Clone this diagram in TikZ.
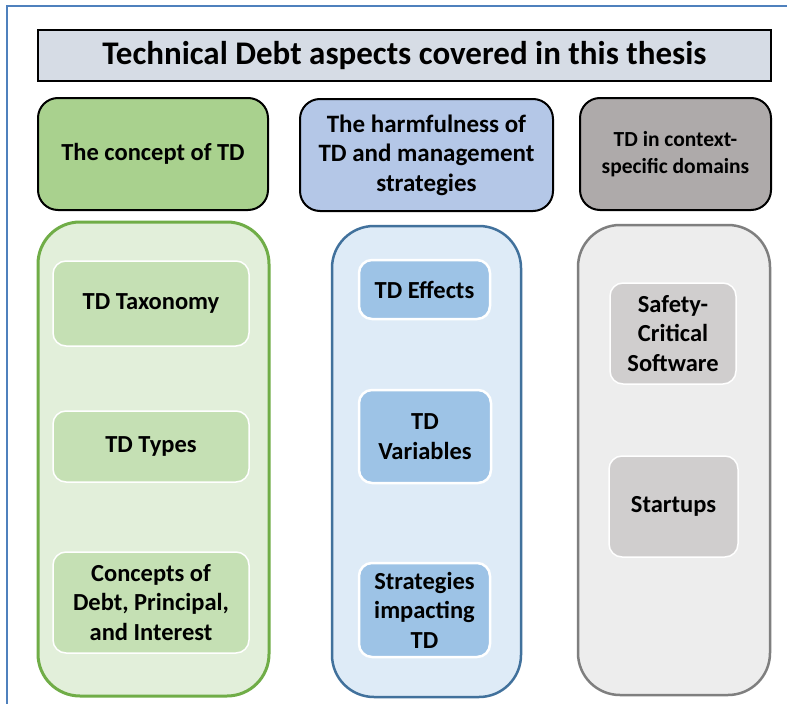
\documentclass[tikz,border=0pt]{standalone}
\usepackage{fontspec}
\setmainfont{Carlito}
\definecolor{frameblue}{HTML}{4F81BD}
\definecolor{titlefill}{HTML}{D6DCE5}
\definecolor{hgreen}{HTML}{A9D18E}
\definecolor{hblue}{HTML}{B4C7E7}
\definecolor{hgray}{HTML}{AEAAAA}
\definecolor{cgreenf}{HTML}{E2EFDA}
\definecolor{cgreend}{HTML}{70AD47}
\definecolor{cbluef}{HTML}{DEEBF7}
\definecolor{cblued}{HTML}{41719C}
\definecolor{cgrayf}{HTML}{EDEDED}
\definecolor{cgrayd}{HTML}{7F7F7F}
\definecolor{igreen}{HTML}{C5E0B4}
\definecolor{iblue}{HTML}{9DC3E6}
\definecolor{igray}{HTML}{D0CECE}
\tikzset{
  txt/.style={font=\bfseries\fontsize{24.5}{29.5}\selectfont, align=center, inner sep=0pt, outer sep=0pt},
  titlebox/.style={txt, draw=black, line width=2pt, fill=titlefill, font=\bfseries\fontsize{33}{38}\selectfont},
  headbox/.style={txt, draw=black, line width=2pt, rounded corners=20pt},
  contbox/.style={draw, line width=3pt, rounded corners=42pt, inner sep=0pt},
  innerbox/.style={txt, draw=white, line width=1.5pt, rounded corners=13pt},
}
\begin{document}
\begin{tikzpicture}[x=1pt,y=-1pt]
\useasboundingbox (0,0) rectangle (787,704);
\fill[white] (0,0) rectangle (787,704);
\draw[frameblue, line width=2pt] (7,704) -- (7,6) -- (787,6);
% title
\node[titlebox, minimum width=733pt, minimum height=51pt] (title) at (404.5,55.5) {Technical Debt aspects covered in this thesis};
% headers
\node[headbox, fill=hgreen, minimum width=230pt, minimum height=112pt] (h1) at (153,154) {The concept of TD};
\node[headbox, fill=hblue, minimum width=253pt, minimum height=112pt, font=\bfseries\fontsize{25}{29.5}\selectfont] (h2) at (426.5,155) {The harmfulness of\\TD and management\\strategies};
\node[headbox, fill=hgray, minimum width=191pt, minimum height=112pt, font=\bfseries\fontsize{21.5}{27}\selectfont] (h3) at (675.5,154) {TD in context-\\specific domains};
% containers
\node[contbox, draw=cgreend, fill=cgreenf, minimum width=231pt, minimum height=474pt] (c1) at (153.5,459) {};
\node[contbox, draw=cblued, line width=2.5pt, fill=cbluef, minimum width=189pt, minimum height=471pt] (c2) at (426.5,461.5) {};
\node[contbox, draw=cgrayd, line width=2.5pt, fill=cgrayf, minimum width=192pt, minimum height=470pt] (c3) at (674,460) {};
% green inner
\node[innerbox, fill=igreen, minimum width=196pt, minimum height=85pt] (g1) at (151,303.5) {TD Taxonomy};
\node[innerbox, fill=igreen, minimum width=196pt, minimum height=71pt] (g2) at (151,446.5) {TD Types};
\node[innerbox, fill=igreen, minimum width=196pt, minimum height=101pt] (g3) at (151,602.5) {Concepts of\\Debt, Principal,\\and Interest};
% blue inner
\node[innerbox, line width=2.5pt, fill=iblue, minimum width=131pt, minimum height=59pt] (b1) at (424.5,289.5) {TD Effects};
\node[innerbox, line width=2.5pt, fill=iblue, minimum width=132pt, minimum height=93pt] (b2) at (425,436.5) {TD\\Variables};
\node[innerbox, line width=2.5pt, fill=iblue, minimum width=131pt, minimum height=94pt] (b3) at (424.5,610) {Strategies\\impacting\\TD};
% gray inner
\node[innerbox, fill=igray, minimum width=126pt, minimum height=101pt] (s1) at (673,333.5) {Safety-\\Critical\\Software};
\node[innerbox, fill=igray, minimum width=129pt, minimum height=101pt] (s2) at (673.5,506.5) {Startups};
\end{tikzpicture}
\end{document}
